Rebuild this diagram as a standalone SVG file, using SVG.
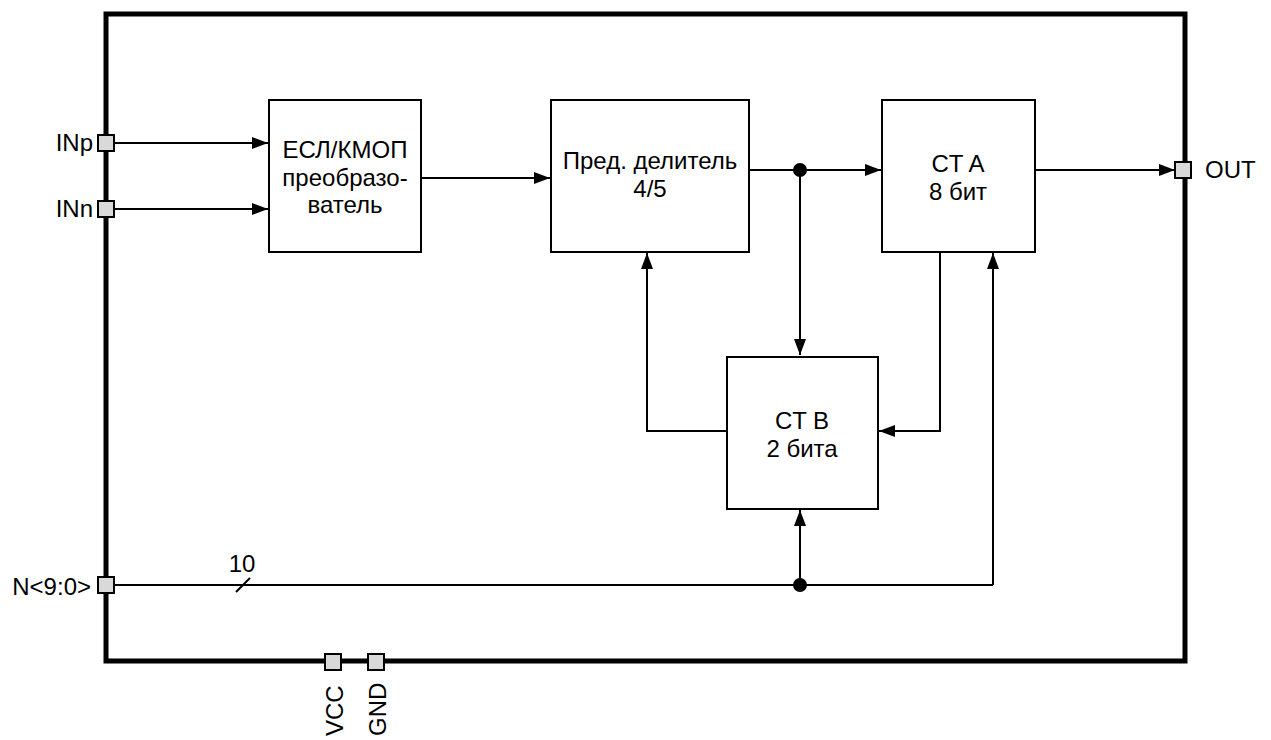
<svg xmlns="http://www.w3.org/2000/svg" width="1271" height="740" viewBox="0 0 1271 740">
<defs>
<style>
text{font-family:"Liberation Sans",Arial,sans-serif;font-size:24px;fill:#000}
.blk{fill:#fff;stroke:#000;stroke-width:2}
.pin{fill:#d9d9d9;stroke:#000;stroke-width:2}
.w{fill:none;stroke:#000;stroke-width:2}
.c{text-anchor:middle}
</style>
<marker id="ah" viewBox="0 0 16 12" refX="16" refY="6" markerWidth="16" markerHeight="12" markerUnits="userSpaceOnUse" orient="auto">
<path d="M0,0 L16,6 L0,12 Z" fill="#000"/>
</marker>
</defs>
<rect x="106" y="14" width="1079" height="647" fill="none" stroke="#000" stroke-width="5"/>
<g id="connectors">
<line class="w" x1="114" y1="143" x2="268" y2="143" marker-end="url(#ah)"/>
<line class="w" x1="114" y1="209" x2="268" y2="209" marker-end="url(#ah)"/>
<line class="w" x1="421" y1="178" x2="550" y2="178" marker-end="url(#ah)"/>
<line class="w" x1="749" y1="170" x2="881" y2="170" marker-end="url(#ah)"/>
<line class="w" x1="800" y1="170" x2="800" y2="355" marker-end="url(#ah)"/>
<line class="w" x1="1035" y1="170" x2="1175" y2="170" marker-end="url(#ah)"/>
<polyline class="w" points="727,431 647,431 647,253" marker-end="url(#ah)"/>
<polyline class="w" points="940,252 940,431 879,431" marker-end="url(#ah)"/>
<line class="w" x1="114" y1="585" x2="993" y2="585"/>
<polyline class="w" points="993,585 993,253" marker-end="url(#ah)"/>
<line class="w" x1="800" y1="585" x2="800" y2="510" marker-end="url(#ah)"/>
<circle cx="800" cy="170" r="7" fill="#000"/>
<circle cx="800" cy="585" r="7" fill="#000"/>
<line class="w" x1="236" y1="592" x2="250" y2="578"/>
<text x="242" y="572" class="c">10</text>
</g>
<g id="ecl">
<rect class="blk" x="269" y="100" width="152" height="152"/>
<text x="345" y="158" class="c">ЕСЛ/КМОП</text>
<text x="345" y="186" class="c">преобразо-</text>
<text x="345" y="213" class="c">ватель</text>
</g>
<g id="prescaler">
<rect class="blk" x="551" y="100" width="198" height="152"/>
<text x="650" y="169" class="c">Пред. делитель</text>
<text x="650" y="197" class="c">4/5</text>
</g>
<g id="cta">
<rect class="blk" x="882" y="100" width="153" height="152"/>
<text x="958" y="172" class="c">CT A</text>
<text x="958" y="200" class="c">8 бит</text>
</g>
<g id="ctb">
<rect class="blk" x="727" y="357" width="151" height="152"/>
<text x="802" y="429" class="c">CT B</text>
<text x="802" y="457" class="c">2 бита</text>
</g>
<g id="pin-inp"><rect class="pin" x="98" y="135" width="16" height="16"/><text x="93" y="151" text-anchor="end">INp</text></g>
<g id="pin-inn"><rect class="pin" x="98" y="201" width="16" height="16"/><text x="93" y="217" text-anchor="end">INn</text></g>
<g id="pin-n"><rect class="pin" x="98" y="577" width="16" height="16"/><text x="91" y="595" text-anchor="end">N&lt;9:0&gt;</text></g>
<g id="pin-out"><rect class="pin" x="1175" y="162" width="16" height="16"/><text x="1205" y="178">OUT</text></g>
<g id="pin-vcc"><rect class="pin" x="325" y="654" width="16" height="16"/><text transform="translate(343,736) rotate(-90)">VCC</text></g>
<g id="pin-gnd"><rect class="pin" x="368" y="654" width="16" height="16"/><text transform="translate(386,736) rotate(-90)">GND</text></g>
</svg>
